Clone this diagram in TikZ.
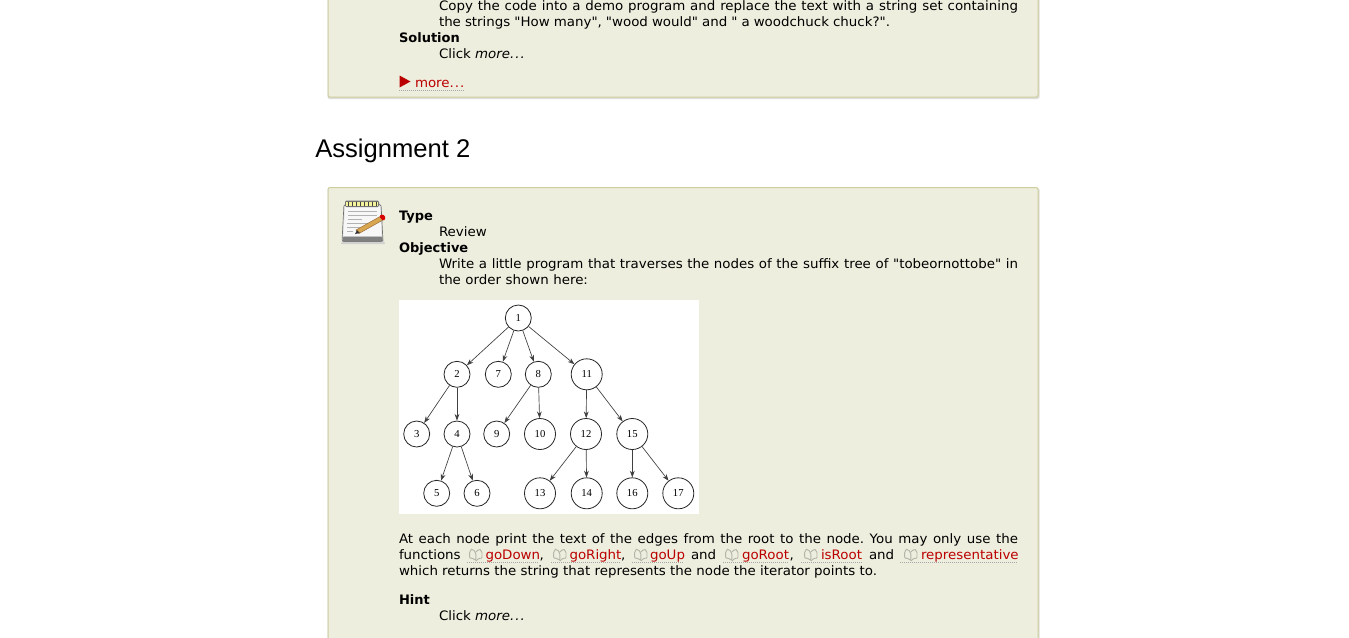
\documentclass[tikz,border=0pt]{standalone}
\usepackage{fontspec}
\setmainfont{DejaVu Sans}
\newfontfamily\vf[FakeStretch=1.03,BoldFeatures={FakeStretch=1.0}]{DejaVu Sans}
\newfontfamily\headfont{Liberation Sans}
\newfontfamily\figfont{Liberation Serif}
\usetikzlibrary{arrows.meta,positioning}
\definecolor{panelbg}{HTML}{EEEEDE}
\definecolor{panelbd}{HTML}{CDCD9E}
\definecolor{linkred}{HTML}{BB0000}
\definecolor{shadowc}{HTML}{DEDEDA}
\definecolor{bookc}{HTML}{B4B4A8}
\definecolor{pencilc}{HTML}{D9A650}
\newcommand{\tsize}{\vf\fontsize{9.75pt}{12pt}\selectfont\frenchspacing}
\newcommand{\jl}[2]{\makebox[\dimexpr #1pt*3/4\relax][s]{#2}}
\newcommand{\dotz}{.\kern0.7pt.\kern0.7pt.}
\newcommand{\bookat}[1]{%
  \draw[bookc,line width=0.7pt,rounded corners=1.5pt]
    ([shift={(6.8,-3)}]#1) .. controls ([shift={(4,-5.5)}]#1) and ([shift={(2,-5.5)}]#1) .. ([shift={(0.7,-4.5)}]#1)
    -- ([shift={(0.7,4)}]#1) .. controls ([shift={(3,3)}]#1) and ([shift={(5,4)}]#1) .. ([shift={(6.8,6)}]#1) -- cycle;
  \draw[bookc,line width=0.7pt,rounded corners=1.5pt]
    ([shift={(6.8,-3)}]#1) .. controls ([shift={(9,-5.5)}]#1) and ([shift={(11,-5.5)}]#1) .. ([shift={(13,-4.5)}]#1)
    -- ([shift={(13,4)}]#1) .. controls ([shift={(10.5,3)}]#1) and ([shift={(8.5,4)}]#1) .. ([shift={(6.8,6)}]#1);
}
\tikzset{
  x=0.75pt,y=-0.75pt,
  txt/.style={anchor=base west,inner sep=0pt,outer sep=0pt,font=\tsize,text=black},
  hd/.style={txt,font=\tsize\bfseries},
  lnk/.style={txt,text=linkred},
  dotl/.style={draw=black!35,line width=0.5pt,dash pattern=on 0.75pt off 0.75pt},
  panel/.style={fill=panelbg,draw=panelbd,line width=0.75pt,rounded corners=1.5pt},
  tn/.style={circle,draw=black!85,fill=white,line width=0.6pt,inner sep=0pt,minimum size=19.5pt,font=\figfont\fontsize{8pt}{9pt}\selectfont},
  tnb/.style={tn,minimum size=23.25pt},
  ed/.style={draw=black!75,line width=0.5pt,-{Stealth[length=5pt,width=3.6pt]}},
}
\begin{document}
\begin{tikzpicture}
\useasboundingbox (0,0) rectangle (1349,637);
\fill[white] (0,0) rectangle (1349,637);
% panels
\fill[shadowc,rounded corners=1.5pt] (327.5,-6) rectangle (1039.5,99);
\draw[panel] (328,-6) rectangle (1038,97);
\fill[shadowc,rounded corners=1.5pt] (327.5,188) rectangle (1039.5,645);
\draw[panel] (328,187.5) rectangle (1038,645);
% first panel text
\node[txt] (a1) at (439,10) {\jl{579}{Copy the code into a demo program and replace the text with a string set containing}};
\node[txt] (a2) at (439,26) {\jl{451}{the strings "How many", "wood would" and " a woodchuck chuck?".}};
\node[hd] (a3) at (399,42) {Solution};
\node[txt] (a4) at (439,58) {Click \textit{more\dotz}};
\fill[linkred] (399.5,75.5) -- (410.5,81.5) -- (399.5,87.5) -- cycle;
\node[lnk] (a5) at (415,87) {more\dotz};
\draw[dotl] (399,90.5) -- (465,90.5);
% heading
\node[anchor=base west,inner sep=0pt,font=\headfont\fontsize{19.2pt}{22pt}\selectfont] (h) at (315,157) {Assignment 2};
% notepad icon
\fill[black!18] (343,238) -- (383,238) -- (385,244) -- (341,244) -- cycle;
\draw[black!55,fill=black!10,line width=0.5pt,rounded corners=1.5pt] (344,204) -- (381,204) -- (383,241.5) -- (342,241.5) -- cycle;
\fill[black!3] (345,207) -- (380,207) -- (381.5,236) -- (343.5,236) -- cycle;
\fill[black!50,rounded corners=1pt] (342.5,236.5) rectangle (382.5,241.5);
\draw[black!30,line width=0.5pt] (348,211) -- (377,211) (348,215) -- (377,215) (348,219) -- (362,219) (347,223) -- (370,223) (347,227) -- (360,227) (347,231) -- (353,231);
\fill[black!55,rounded corners=1pt] (345,200.5) rectangle (379,207);
\fill[panelbg!70!yellow] (346,202) rectangle (378,205.5);
\foreach \i in {0,...,7}{\draw[black!75,line width=0.7pt] (348+\i*4,201.5) -- (348+\i*4,205.5);}
\fill[pencilc,draw=brown!75!black,line width=0.3pt] (356,230) -- (380,216.5) -- (383,220) -- (359,233.5) -- cycle;
\fill[red!85!black,rounded corners=1pt] (379,216) -- (383,214) -- (386,218) -- (383,221) -- cycle;
\fill[black!80] (355,234) -- (357,230) -- (360,233) -- cycle;
% second panel text
\node[hd] (b1) at (399,220) {Type};
\node[txt] (b2) at (439,236) {Review};
\node[hd] (b3) at (399,252) {Objective};
\node[txt] (b4) at (439,268) {\jl{579}{Write a little program that traverses the nodes of the suffix tree of "tobeornottobe" in}};
\node[txt] (b5) at (439,284) {\jl{149}{the order shown here:}};
% figure
\fill[white] (399,300) rectangle (699,514);
\node[tn] (n1) at (518.3,318) {1};
\node[tn] (n2) at (457,374.3) {2};
\node[tn] (n7) at (498.3,374.3) {7};
\node[tn] (n8) at (538.3,374.3) {8};
\node[tnb] (n11) at (586.7,374.3) {11};
\node[tn] (n3) at (416.7,434) {3};
\node[tn] (n4) at (457,434) {4};
\node[tn] (n9) at (496.7,434) {9};
\node[tnb] (n10) at (540,434) {10};
\node[tnb] (n12) at (586,434) {12};
\node[tnb] (n15) at (632.3,434) {15};
\node[tn] (n5) at (436.7,493.3) {5};
\node[tn] (n6) at (477,493.3) {6};
\node[tnb] (n13) at (540,493.3) {13};
\node[tnb] (n14) at (586.7,493.3) {14};
\node[tnb] (n16) at (632.3,493.3) {16};
\node[tnb] (n17) at (678.3,493.3) {17};
\foreach \a/\b in {n1/n2,n1/n7,n1/n8,n1/n11,n2/n3,n2/n4,n8/n9,n8/n10,n11/n12,n11/n15,n4/n5,n4/n6,n12/n13,n12/n14,n15/n16,n15/n17}{\draw[ed] (\a) -- (\b);}
% text below figure
\node[txt] (c1) at (399,543) {\jl{619}{At each node print the text of the edges from the root to the node. You may only use the}};
\node[txt] (c2) at (399,559) {functions};
\node[txt] (c3) at (399,575) {\jl{478}{which returns the string that represents the node the iterator points to.}};
\bookat{469,555}
\node[lnk] (f1) at (485.5,559) {goDown};
\node[txt] (k1) at (539.5,559) {,};
\bookat{553,555}
\node[lnk] (f2) at (569.5,559) {goRight};
\node[txt] (k2) at (621,559) {,};
\bookat{634,555}
\node[lnk] (f3) at (650,559) {goUp};
\node[txt] (k3) at (691,559) {and};
\bookat{725,555}
\node[lnk] (f4) at (742,559) {goRoot};
\node[txt] (k4) at (789.5,559) {,};
\bookat{804,555}
\node[lnk] (f5) at (821,559) {isRoot};
\node[txt] (k5) at (869,559) {and};
\bookat{904,555}
\node[lnk] (f6) at (921,559) {representative};
\draw[dotl] (467,562.5) -- (539,562.5) (551,562.5) -- (620,562.5) (632,562.5) -- (684,562.5) (723,562.5) -- (788,562.5) (801,562.5) -- (862,562.5) (900,562.5) -- (1018,562.5);
\node[hd] (d1) at (399,604) {Hint};
\node[txt] (d2) at (439,620) {Click \textit{more\dotz}};
\end{tikzpicture}
\end{document}
